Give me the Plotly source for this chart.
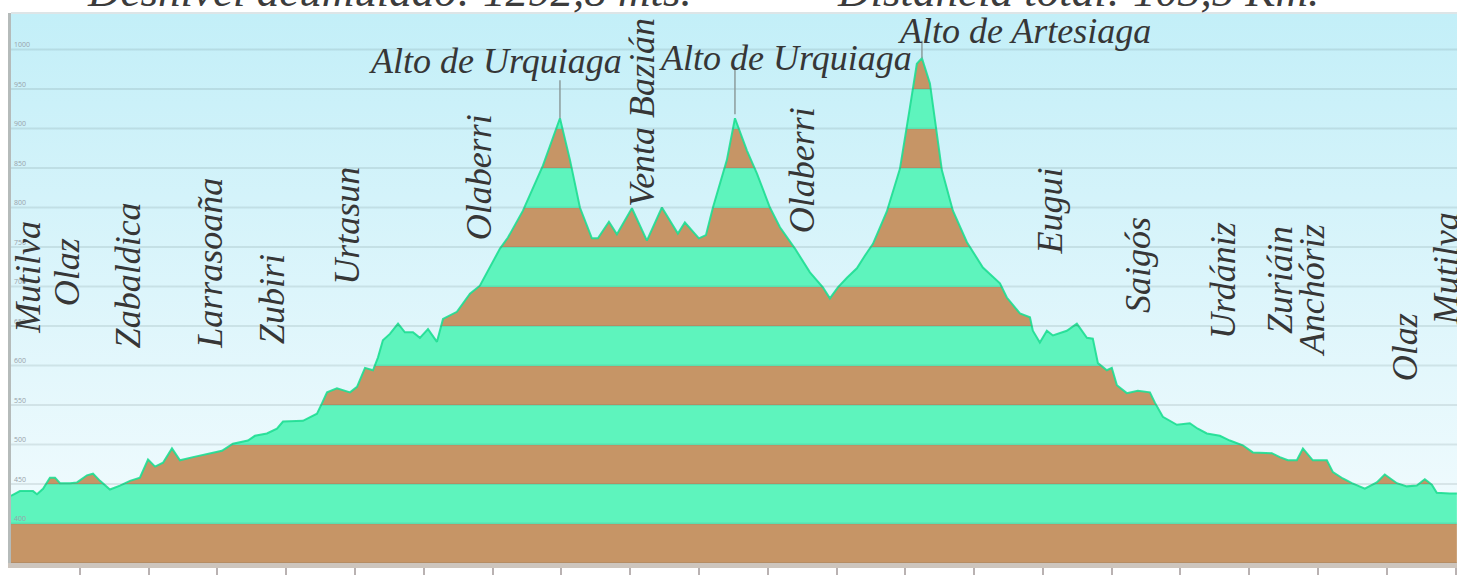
import plotly.graph_objects as go

# ---------------- data ----------------
dist_km = [0, 0.65, 1.6, 1.89, 2.33, 2.83, 3.2, 3.56, 4.29, 4.8, 5.52, 5.96, 6.47, 7.19, 7.92,
           8.65, 9.37, 9.96, 10.47, 11.05, 11.7, 12.28, 13.23, 13.74, 14.68, 15.33, 16.13, 17.22,
           17.73, 18.6, 19.33, 19.77, 21.22, 22.24, 22.6, 22.97, 23.69, 24.64, 25.15, 25.73, 26.31,
           26.67, 27.03, 27.54, 28.13, 28.63, 29.22, 29.72, 30.31, 30.96, 31.4, 32.41, 33.36, 34.08,
           35.54, 36.12, 37.21, 38.66, 39.9, 40.63, 41.35, 42.22, 42.66, 43.46, 44.04, 45.13, 46.22,
           47.31, 48.47, 48.98, 50.0, 50.51, 51.02, 52.03, 52.62, 53.49, 54.22, 55.16, 55.89, 56.98,
           58.07, 59.01, 59.52, 60.1, 60.76, 61.48, 62.06, 62.65, 63.66, 64.61, 65.34, 65.84, 66.21,
           66.79, 67.66, 68.46, 69.48, 70.64, 71.88, 72.38, 73.33, 74.06, 74.27, 74.78, 75.29, 75.73,
           76.74, 77.47, 78.2, 78.63, 79.0, 79.65, 80.01, 80.38, 81.1, 81.9, 82.78, 83.14, 83.72,
           84.74, 85.68, 86.26, 86.92, 87.86, 88.59, 89.53, 90.26, 91.64, 92.22, 92.81, 93.46, 93.9,
           94.62, 95.64, 96.08, 96.8, 97.46, 98.4, 99.27, 99.85, 100.73, 101.45, 102.18, 102.76,
           103.27, 103.63, 104.58, 105.09]
elev_m = [435, 441, 441, 437, 444, 458, 458, 451, 451, 452, 461, 463, 454, 443, 448,
          454, 458, 481, 472, 477, 495, 480, 484, 486, 490, 492, 501, 505,
          511, 514, 520, 529, 530, 539, 552, 566, 571, 566, 573, 597, 594,
          610, 632, 640, 653, 642, 642, 635, 646, 630, 659, 668, 691, 701,
          748, 762, 796, 853, 913, 860, 800, 761, 761, 782, 766, 799, 758,
          800, 767, 781, 761, 765, 800, 860, 913, 872, 843, 800, 775, 748,
          718, 699, 685, 699, 711, 723, 739, 754, 795, 849, 927, 982, 989,
          957, 847, 796, 756, 724, 704, 686, 666, 661, 644, 629, 644, 638,
          644, 653, 635, 634, 603, 594, 597, 575, 565, 568, 566, 553, 535,
          525, 527, 520, 514, 511, 505, 499, 490, 489, 484, 480, 480, 495,
          480, 480, 465, 457, 451, 444, 452, 462, 451, 447, 448, 456,
          449, 439, 438, 438]

y_min = 350
y_top = 1046.2
x_max = 105.1
band_step = 50
n_bands = 14
ytick_vals = [400, 450, 500, 550, 600, 650, 700, 750, 800, 850, 900, 950, 1000]
grid_vals = [350] + ytick_vals
xtick_step = 5

places = ["Mutilva", "Olaz", "Zabaldica", "Larrasoaña", "Zubiri", "Urtasun", "Olaberri",
          "Venta Bazián", "Olaberri", "Eugui", "Saigós", "Urdániz", "Zuriáin", "Anchóriz",
          "Olaz", "Mutilva"]
place_km = [1.24, 4.07, 8.5, 14.46, 18.97, 24.42, 34.08, 45.86, 57.49, 75.51, 81.9, 88.08,
            92.22, 94.62, 101.31, 104.36]
place_label_m = [711, 718, 714, 730, 684, 777, 838, 921, 847, 796, 727, 708, 708, 695, 623, 723]

peak_names = ["Alto de Urquiaga", "Alto de Urquiaga", "Alto de Artesiaga"]
peak_km = [39.9, 52.62, 66.21]
peak_m = [913, 918, 989]
peak_label_km = [35.25, 56.32, 73.69]
peak_label_m = [985, 989, 1024]
peak_leader_top_m = [961, 975, 1011]

title_left = "Desnivel acumulado: 1292,8 mts."
title_right = "Distancia total: 103,5 Km."

# ---------------- styles ----------------
BROWN = "#c69566"
GREEN = "#5ef4bd"
FONT = "Liberation Serif"
TEXT = "#363636"

band_scale = []
for k in range(n_bands):
    c = BROWN if k % 2 == 0 else GREEN
    band_scale.append([k / n_bands, c])
    band_scale.append([(k + 1) / n_bands, c])

fig = go.Figure()

# sky background
fig.add_trace(go.Scatter(
    x=[0, x_max], y=[y_top, y_top], mode="none", fill="tozeroy",
    fillgradient=dict(type="vertical",
                      colorscale=[[0, "#f4fcfe"], [0.5, "#dcf5fb"], [1, "#c3eff8"]],
                      start=y_min, stop=y_top),
    hoverinfo="skip", showlegend=False))

# profile with banded fill
fig.add_trace(go.Scatter(
    x=dist_km, y=elev_m, mode="lines",
    line=dict(color="rgba(30,222,146,0.9)", width=2),
    fill="tozeroy",
    fillgradient=dict(type="vertical", colorscale=band_scale,
                      start=y_min, stop=y_min + n_bands * band_step),
    hoverinfo="skip", showlegend=False))

shapes = []
for v in grid_vals:
    shapes.append(dict(type="line", xref="paper", x0=0, x1=1, yref="y", y0=v, y1=v,
                       line=dict(color="rgba(60,80,80,0.12)", width=2), layer="above"))
shapes.append(dict(type="line", xref="paper", x0=0, x1=1, yref="paper", y0=1, y1=1,
                   line=dict(color="#dde5e7", width=2)))
for k, t, m in zip(peak_km, peak_leader_top_m, peak_m):
    shapes.append(dict(type="line", xref="x", yref="y", x0=k, x1=k, y0=m, y1=t,
                       line=dict(color="#8d9c9c", width=1.5)))

annotations = []
for name, k, m in zip(places, place_km, place_label_m):
    annotations.append(dict(x=k, y=m, xref="x", yref="y", text=name, textangle=-90,
                            showarrow=False, xanchor="center", yanchor="middle",
                            font=dict(family=FONT, size=36, style="italic", color=TEXT)))
for name, k, m in zip(peak_names, peak_label_km, peak_label_m):
    annotations.append(dict(x=k, y=m, xref="x", yref="y", text=name, showarrow=False,
                            xanchor="center", yanchor="middle",
                            font=dict(family=FONT, size=36, style="italic", color=TEXT)))
annotations.append(dict(x=0.262, y=1.04, xref="paper", yref="paper", text=title_left,
                        showarrow=False, xanchor="center", yanchor="middle",
                        font=dict(family=FONT, size=45, style="italic", color="#3c3c3c")))
annotations.append(dict(x=0.738, y=1.04, xref="paper", yref="paper", text=title_right,
                        showarrow=False, xanchor="center", yanchor="middle",
                        font=dict(family=FONT, size=45, style="italic", color="#3c3c3c")))

fig.update_layout(
    width=1457, height=575,
    margin=dict(l=11, r=0, t=13, b=12, autoexpand=False),
    paper_bgcolor="white", plot_bgcolor="white",
    shapes=shapes, annotations=annotations,
    xaxis=dict(range=[0, x_max], tick0=0, dtick=xtick_step, ticks="outside", ticklen=8,
               tickwidth=2, tickcolor="#b9b2b2", showline=True, linecolor="#cdc5bd",
               linewidth=5, showgrid=False, zeroline=False, automargin=False,
               tickfont=dict(size=8, color="#a09aa0")),
    yaxis=dict(range=[y_min, y_top], tickvals=ytick_vals, ticks="", showgrid=False,
               zeroline=False, showline=True, linecolor="#b5bbba", linewidth=3,
               automargin=False, ticklabelposition="inside top",
               tickfont=dict(size=7, color="#98a2aa")),
)

fig.write_html("out.html", config={"displayModeBar": False},
               post_script="document.body.style.margin='0';document.body.style.overflow='hidden';")
